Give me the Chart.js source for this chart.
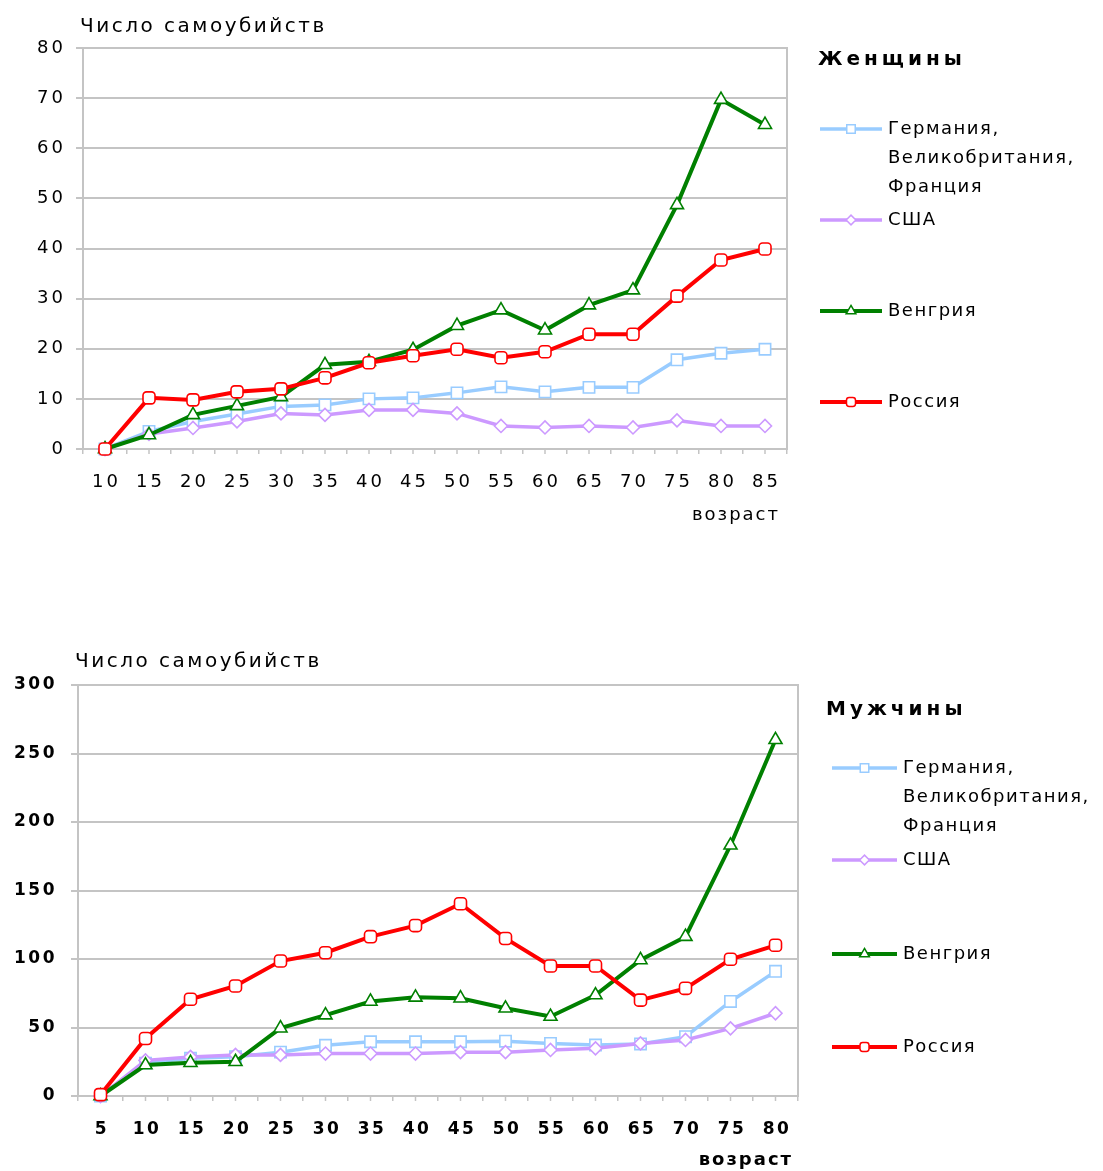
<!DOCTYPE html>
<html>
<head>
<meta charset="utf-8">
<script src="https://cdn.jsdelivr.net/npm/chart.js@4.4.0/dist/chart.umd.min.js"></script>
<style>
  body { margin: 0; background: #fff; width: 1103px; height: 1171px; position: relative; overflow: hidden; }
  canvas { position: absolute; left: 0; }
  #women { top: 0; }
  #men { top: 620px; }
</style>
</head>
<body>
<canvas id="women" width="1103" height="560"></canvas>
<canvas id="men" width="1103" height="551"></canvas>
<script>
// --- данные: женщины ---
const agesWomen = ['10', '15', '20', '25', '30', '35', '40', '45', '50', '55', '60', '65', '70', '75', '80', '85'];
const germanyWomen = [0, 3.5, 5.5, 7, 8.5, 8.8, 10, 10.2, 11.2, 12.4, 11.4, 12.3, 12.3, 17.8, 19.1, 19.9];
const usaWomen = [0, 3, 4.2, 5.5, 7.1, 6.8, 7.8, 7.8, 7.1, 4.6, 4.3, 4.6, 4.3, 5.7, 4.6, 4.6];
const hungaryWomen = [0, 2.8, 6.8, 8.6, 10.4, 16.8, 17.4, 19.8, 24.6, 27.7, 23.7, 28.7, 31.7, 48.7, 69.7, 64.7];
const russiaWomen = [0, 10.2, 9.8, 11.4, 12, 14.2, 17.2, 18.6, 19.9, 18.2, 19.4, 22.9, 22.9, 30.5, 37.7, 39.9];
const ticksWomen = { max: 80, step: 10 };

// --- данные: мужчины ---
const agesMen = ['5', '10', '15', '20', '25', '30', '35', '40', '45', '50', '55', '60', '65', '70', '75', '80'];
const germanyMen = [0, 24, 27.5, 28.7, 32, 37, 39.6, 39.6, 39.6, 40, 38.4, 37.2, 38, 43.3, 69, 91];
const usaMen = [0, 26, 28.5, 30, 30, 31, 31, 31, 32, 32, 33.6, 34.8, 38.4, 40.9, 49.4, 60.4];
const hungaryMen = [0, 22.6, 24.3, 25, 49.5, 59, 69, 72, 71.4, 64, 58, 73.7, 99.3, 116.3, 183, 260];
const russiaMen = [1, 42, 70.6, 80.3, 98.5, 104.6, 116.3, 124.4, 140.3, 115, 94.9, 94.9, 70, 78.6, 99.8, 110];
const ticksMen = { max: 300, step: 50 };

const seriesNames = ['Германия, Великобритания, Франция', 'США', 'Венгрия', 'Россия'];

// стили серий
const lineColors = ['#99ccff', '#cc99ff', '#008000', '#ff0000'];
const markerStyles = ['rect', 'rectRot', 'triangle', 'rectRounded'];
const markerSizes = [8, 6.5, 7.5, 7];
const lineWidths = [3.5, 3.5, 4, 4];

const FONT = '"DejaVu Sans", Verdana, sans-serif';
const GRID = '#c4c4c4';
Chart.defaults.font.family = FONT;
Chart.defaults.color = '#000';

const setSpacing = (chart) => { chart.ctx.letterSpacing = chart.options.plugins.frame.spacing; };

// рамка, подписи осей и легенда справа
const framePlugin = {
  id: 'frame',
  beforeUpdate: setSpacing,
  beforeLayout: setSpacing,
  beforeDraw: setSpacing,
  beforeDatasetsDraw(chart, args, o) {
    const { ctx, chartArea: a, scales: { x } } = chart;
    ctx.save();
    ctx.strokeStyle = GRID;
    ctx.lineWidth = 2;
    ctx.strokeRect(a.left, a.top, a.right - a.left, a.bottom - a.top);
    ctx.lineWidth = 1.5;
    x.ticks.forEach((t, i) => {
      const px = x.getPixelForTick(i);
      ctx.beginPath();
      ctx.moveTo(px, a.bottom);
      ctx.lineTo(px, a.bottom + 5);
      ctx.stroke();
    });
    ctx.restore();
  },
  afterDraw(chart, args, o) {
    const ctx = chart.ctx;
    ctx.save();
    ctx.fillStyle = '#000';
    ctx.textBaseline = 'middle';

    ctx.font = '20px ' + FONT;
    ctx.letterSpacing = '2.5px';
    ctx.textAlign = 'left';
    ctx.fillText('Число самоубийств', o.yTitle[0], o.yTitle[1]);
    ctx.textAlign = 'right';
    ctx.font = o.weight + ' 18px ' + FONT;
    ctx.letterSpacing = '2px';
    ctx.fillText('возраст', o.xTitle[0], o.xTitle[1]);

    ctx.textAlign = 'left';
    ctx.font = 'bold 20px ' + FONT;
    ctx.letterSpacing = '4px';
    ctx.fillText(o.legendTitle, o.legendX, o.legendTitleY);

    ctx.font = '18px ' + FONT;
    ctx.letterSpacing = '1.5px';
    chart.data.datasets.forEach((ds, i) => {
      const y = o.itemY[i];
      ctx.strokeStyle = ds.borderColor;
      ctx.lineWidth = ds.borderWidth;
      ctx.beginPath();
      ctx.moveTo(o.lineX[0], y);
      ctx.lineTo(o.lineX[1], y);
      ctx.stroke();
      ctx.fillStyle = '#fff';
      ctx.lineWidth = 1.5;
      Chart.helpers.drawPoint(ctx, { pointStyle: ds.pointStyle, radius: ds.pointRadius * 0.75, borderWidth: 1.5, rotation: 0 },
        (o.lineX[0] + o.lineX[1]) / 2, y);
      ctx.fillStyle = '#000';
      ds.label.split(/(?<=,) /).forEach((line, j) => ctx.fillText(line, o.textX, y + j * o.lineGap));
    });
    ctx.restore();
  }
};

function makeChart(id, ages, series, yTicks, box, extra) {
  const datasets = series.map((values, i) => ({
    label: seriesNames[i],
    data: values,
    borderColor: lineColors[i],
    borderWidth: lineWidths[i],
    pointStyle: markerStyles[i],
    pointRadius: markerSizes[i],
    pointBorderWidth: 1.6,
    pointBackgroundColor: '#fff',
    pointBorderColor: lineColors[i],
    tension: 0,
    clip: false,
    order: series.length - 1 - i
  }));
  const tickFont = { size: box.tickSize, weight: extra.weight };

  return new Chart(document.getElementById(id), {
    type: 'line',
    data: { labels: ages, datasets },
    options: {
      responsive: false,
      animation: false,
      events: [],
      layout: { padding: { left: 0, top: box.top, right: box.right, bottom: 0 } },
      plugins: {
        legend: { display: false },
        tooltip: { enabled: false },
        frame: Object.assign({ spacing: box.spacing }, extra)
      },
      scales: {
        x: {
          offset: true,
          grid: { display: true, drawOnChartArea: false, offset: true, color: GRID, lineWidth: 1.5, tickLength: 5 },
          border: { color: GRID, width: 2 },
          ticks: { font: tickFont, padding: 18, labelOffset: 1.5, maxRotation: 0, autoSkip: false },
          afterFit: (s) => { s.height = box.xHeight; }
        },
        y: {
          min: 0,
          max: yTicks.max,
          grid: { color: GRID, lineWidth: 2, tickLength: 7 },
          border: { color: GRID, width: 2 },
          ticks: { stepSize: yTicks.step, font: tickFont, padding: box.yPad },
          afterFit: (s) => { s.width = box.left; }
        }
      }
    },
    plugins: [framePlugin]
  });
}

makeChart('women', agesWomen, [germanyWomen, usaWomen, hungaryWomen, russiaWomen], ticksWomen,
  { left: 83, top: 48, right: 316, xHeight: 111, yPad: 10, tickSize: 18, spacing: '3px' },
  {
    weight: 'normal',
    yTitle: [80, 27], xTitle: [780, 515],
    legendTitle: 'Женщины', legendX: 818, legendTitleY: 60,
    lineX: [820, 882], textX: 888, itemY: [129, 220, 311, 402], lineGap: 29
  });

makeChart('men', agesMen, [germanyMen, usaMen, hungaryMen, russiaMen], ticksMen,
  { left: 78, top: 65, right: 305, xHeight: 75, yPad: 14, tickSize: 17, spacing: '2.5px' },
  {
    weight: 'bold',
    yTitle: [75, 42], xTitle: [793, 540],
    legendTitle: 'Мужчины', legendX: 826, legendTitleY: 90,
    lineX: [832, 897], textX: 903, itemY: [148, 240, 334, 427], lineGap: 29
  });
</script>
</body>
</html>
